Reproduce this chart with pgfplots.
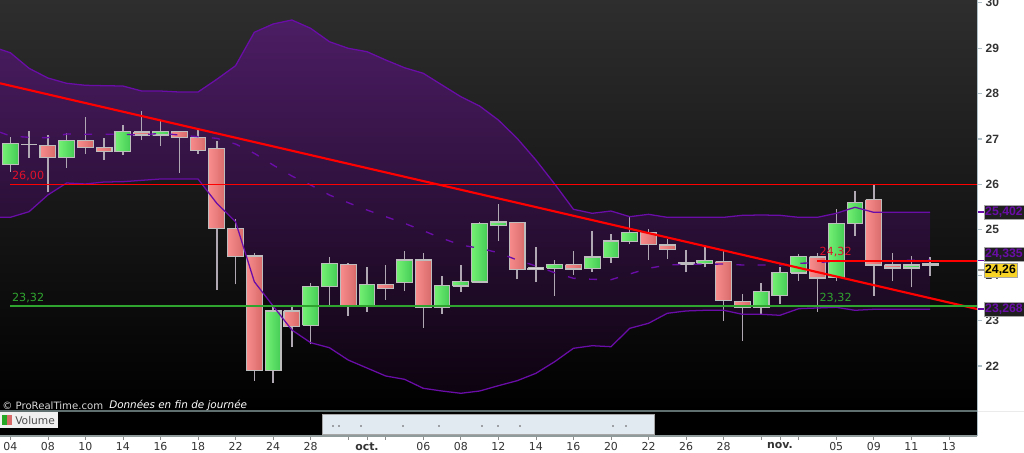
\documentclass[border=0pt]{standalone}
\usepackage{fontspec}
\setmainfont{DejaVu Sans}
\newfontfamily\boxfont{Liberation Sans}
\usepackage{pgfplots}
\pgfplotsset{compat=1.18}
\definecolor{gl}{HTML}{74F074}
\definecolor{gr}{HTML}{44CC55}
\definecolor{rl}{HTML}{F88C8C}
\definecolor{rr}{HTML}{D86A6A}
\definecolor{wl}{HTML}{D8D8D8}
\definecolor{edge}{HTML}{BDBDBD}
\definecolor{wick}{HTML}{B0A8B2}
\definecolor{bandc}{HTML}{6A0DA8}
\definecolor{spine}{HTML}{AEBFC8}
\definecolor{panel}{HTML}{5F6E6E}
\definecolor{lblr}{HTML}{E0102A}
\definecolor{lblg}{HTML}{2FA52F}
\newcommand{\candle}[7]{%
  \pgfmathsetmacro\xa{#1-0.42}\pgfmathsetmacro\xb{#1+0.42}%
  \addplot[forget plot,mark=none,wick,line width=1.1pt] coordinates {(#1,#5)(#1,#4)};
  \addplot[forget plot,mark=none,draw=edge,line width=0.85pt,shade,left color=#6,right color=#7]
    coordinates {(\xa,#2)(\xb,#2)(\xb,#3)(\xa,#3)(\xa,#2)};
}
\newcommand{\gc}[5]{\candle{#1}{#2}{#3}{#4}{#5}{gl}{gr}}
\newcommand{\rc}[5]{\candle{#1}{#2}{#3}{#4}{#5}{rl}{rr}}
\newcommand{\wc}[5]{\candle{#1}{#2}{#3}{#4}{#5}{wl}{wl}}
\begin{document}
\begin{tikzpicture}
\path[use as bounding box] (0,-31.5pt) rectangle (768pt,308.25pt);
\begin{axis}[
  at={(0,0)},anchor=south west,scale only axis,
  width=732.75pt,height=308.25pt,
  xmin=-0.549,xmax=51.50,ymin=21.009,ymax=30.062,
  axis background/.style={shade,top color=black!82,bottom color=black},
  axis line style={draw=none},
  axis y line*=right,
  xtick=\empty,
  ytick={22,23,24,25,26,27,28,29,30},
  /pgf/number format/assume math mode=true,
  yticklabel style={font=\boxfont\fontsize{9}{11}\selectfont\bfseries,text=black!80,xshift=-0.5pt},
  y tick style={spine,line width=0.8pt},
  tick align=outside,major tick length=3.5pt,
]
% Bollinger envelope
\addplot[forget plot,mark=none,draw=none,shade,top color={rgb,255:red,76;green,29;blue,100},bottom color={rgb,255:red,13;green,3;blue,15}] coordinates {
(-0.549,28.976)(0,28.901)(1,28.557)(2,28.344)(3,28.227)(4,28.183)(5,28.174)(6,28.167)(7,28.057)(8,28.057)(9,28.035)(10,28.035)(11,28.315)(12,28.614)(13,29.350)(14,29.533)(15,29.621)(16,29.438)(17,29.143)(18,28.998)(19,28.923)(20,28.740)(21,28.570)(22,28.447)(23,28.189)(24,27.932)(25,27.727)(26,27.418)(27,27.015)(28,26.537)(29,26.009)(30,25.452)(31,25.363)(32,25.414)(33,25.289)(34,25.341)(35,25.275)(36,25.275)(37,25.275)(38,25.275)(39,25.319)(40,25.326)(41,25.319)(42,25.275)(43,25.275)(44,25.363)(45,25.496)(46,25.385)(47,25.385)(48,25.385)(49,25.385)
(49,23.249)(48,23.249)(47,23.249)(46,23.249)(45,23.227)(44,23.293)(43,23.278)(42,23.262)(41,23.117)(40,23.139)(39,23.139)(38,23.227)(37,23.227)(36,23.212)(35,23.161)(34,22.941)(33,22.830)(32,22.425)(31,22.447)(30,22.390)(29,22.095)(28,21.839)(27,21.676)(26,21.566)(25,21.449)(24,21.399)(23,21.449)(22,21.509)(21,21.707)(20,21.780)(19,21.956)(18,22.132)(17,22.403)(16,22.513)(15,22.793)(14,23.322)(13,23.857)(12,25.178)(11,25.584)(10,26.119)(9,26.119)(8,26.119)(7,26.090)(6,26.059)(5,26.053)(4,26.009)(3,26.031)(2,25.767)(1,25.399)(0,25.275)(-0.549,25.275)(-0.549,28.976)};
% Candles: index, open, close, high, low
\gc{0}{26.443}{26.905}{27.037}{26.280}
\wc{1}{26.874}{26.874}{27.170}{26.588}
\rc{2}{26.861}{26.588}{27.088}{25.826}
\gc{3}{26.588}{26.971}{27.126}{26.368}
\rc{4}{26.971}{26.808}{27.478}{26.670}
\rc{5}{26.817}{26.720}{27.015}{26.537}
\gc{6}{26.720}{27.161}{27.308}{26.648}
\rc{7}{27.154}{27.088}{27.623}{26.978}
\gc{8}{27.088}{27.170}{27.418}{26.846}
\rc{9}{27.161}{27.029}{27.183}{26.258}
\rc{10}{27.037}{26.742}{27.198}{26.670}
\rc{11}{26.795}{25.024}{26.956}{23.674}
\rc{12}{25.033}{24.416}{25.231}{23.800}
\rc{13}{24.423}{21.897}{24.482}{21.676}
\gc{14}{21.897}{23.212}{23.293}{21.632}
\rc{15}{23.212}{22.875}{23.306}{22.412}
\gc{16}{22.897}{23.756}{23.828}{22.478}
\gc{17}{23.747}{24.253}{24.408}{23.344}
\rc{18}{24.231}{23.322}{24.275}{23.101}
\gc{19}{23.322}{23.800}{24.174}{23.190}
\rc{20}{23.800}{23.703}{24.218}{23.454}
\gc{21}{23.835}{24.335}{24.526}{23.652}
\rc{22}{24.335}{23.284}{24.496}{22.844}
\gc{23}{23.284}{23.778}{23.976}{23.146}
\gc{24}{23.762}{23.866}{24.218}{23.630}
\gc{25}{23.850}{25.143}{25.165}{23.822}
\gc{26}{25.090}{25.172}{25.568}{24.753}
\rc{27}{25.165}{24.130}{25.165}{23.910}
\wc{28}{24.165}{24.130}{24.628}{23.850}
\gc{29}{24.152}{24.231}{24.328}{23.542}
\rc{30}{24.231}{24.137}{24.526}{24.011}
\gc{31}{24.152}{24.401}{24.974}{24.077}
\gc{32}{24.394}{24.753}{24.908}{24.275}
\gc{33}{24.738}{24.945}{25.289}{24.694}
\rc{34}{24.945}{24.681}{25.011}{24.341}
\rc{35}{24.665}{24.566}{24.804}{24.363}
\wc{36}{24.269}{24.247}{24.562}{24.064}
\gc{37}{24.262}{24.328}{24.615}{24.174}
\rc{38}{24.297}{23.438}{24.533}{22.998}
\rc{39}{23.425}{23.293}{23.586}{22.557}
\gc{40}{23.293}{23.645}{23.822}{23.146}
\gc{41}{23.549}{24.055}{24.174}{23.366}
\gc{42}{24.049}{24.408}{24.467}{23.872}
\rc{43}{24.401}{23.938}{24.496}{23.196}
\gc{44}{23.945}{25.143}{25.458}{23.872}
\gc{45}{25.134}{25.606}{25.855}{24.870}
\rc{46}{25.663}{24.225}{25.987}{23.549}
\rc{47}{24.225}{24.159}{24.482}{23.872}
\gc{48}{24.159}{24.225}{24.430}{23.734}
\wc{49}{24.247}{24.218}{24.394}{23.989}
% upper band
\addplot[forget plot,mark=none,bandc,line width=0.95pt] coordinates {
(-0.549,28.976)(0,28.901)(1,28.557)(2,28.344)(3,28.227)(4,28.183)(5,28.174)(6,28.167)(7,28.057)(8,28.057)(9,28.035)(10,28.035)(11,28.315)(12,28.614)(13,29.350)(14,29.533)(15,29.621)(16,29.438)(17,29.143)(18,28.998)(19,28.923)(20,28.740)(21,28.570)(22,28.447)(23,28.189)(24,27.932)(25,27.727)(26,27.418)(27,27.015)(28,26.537)(29,26.009)(30,25.452)(31,25.363)(32,25.414)(33,25.289)(34,25.341)(35,25.275)(36,25.275)(37,25.275)(38,25.275)(39,25.319)(40,25.326)(41,25.319)(42,25.275)(43,25.275)(44,25.363)(45,25.496)(46,25.385)(47,25.385)(48,25.385)(49,25.385)};
% lower band
\addplot[forget plot,mark=none,bandc,line width=0.95pt] coordinates {
(-0.549,25.275)(0,25.275)(1,25.399)(2,25.767)(3,26.031)(4,26.009)(5,26.053)(6,26.059)(7,26.090)(8,26.119)(9,26.119)(10,26.119)(11,25.584)(12,25.178)(13,23.857)(14,23.322)(15,22.793)(16,22.513)(17,22.403)(18,22.132)(19,21.956)(20,21.780)(21,21.707)(22,21.509)(23,21.449)(24,21.399)(25,21.449)(26,21.566)(27,21.676)(28,21.839)(29,22.095)(30,22.390)(31,22.447)(32,22.425)(33,22.830)(34,22.941)(35,23.161)(36,23.212)(37,23.227)(38,23.227)(39,23.139)(40,23.139)(41,23.117)(42,23.262)(43,23.278)(44,23.293)(45,23.227)(46,23.249)(47,23.249)(48,23.249)(49,23.249)};
% middle band
\addplot[forget plot,mark=none,color=bandc,line width=1pt,dash pattern=on 6pt off 10pt] coordinates {
(-0.549,27.150)(0,27.066)(1,27.037)(2,27.029)(3,27.110)(4,27.103)(5,27.103)(6,27.103)(7,27.088)(8,27.126)(9,27.088)(10,27.051)(11,27.015)(12,26.890)(13,26.685)(14,26.427)(15,26.185)(16,25.987)(17,25.767)(18,25.597)(19,25.436)(20,25.289)(21,25.143)(22,24.980)(23,24.813)(24,24.665)(25,24.593)(26,24.496)(27,24.335)(28,24.203)(29,24.055)(30,23.932)(31,23.910)(32,23.901)(33,24.027)(34,24.152)(35,24.225)(36,24.240)(37,24.240)(38,24.247)(39,24.225)(40,24.225)(41,24.225)(42,24.262)(43,24.275)(44,24.313)(45,24.313)(46,24.313)(47,24.320)(48,24.330)(49,24.335)};
% levels
\addplot[forget plot,mark=none,red,line width=1.6pt] coordinates {(-0.549,28.227)(51.5,23.256)};
\addplot[forget plot,mark=none,red,line width=1.35pt] coordinates {(0,26)(51.5,26)};
\addplot[forget plot,mark=none,red,line width=1.35pt] coordinates {(43,24.32)(51.5,24.32)};
\addplot[forget plot,mark=none,color=lblg,line width=1.35pt] coordinates {(0,23.32)(51.5,23.32)};
\node[anchor=south west,inner sep=0pt,text=lblr,font=\fontsize{8.4}{10}\selectfont] at (axis cs:0.08,26.07) {26,00};
\node[anchor=south west,inner sep=0pt,text=lblg,font=\fontsize{8.4}{10}\selectfont] at (axis cs:0.08,23.39) {23,32};
\node[anchor=south west,inner sep=0pt,text=lblr,font=\fontsize{8.4}{10}\selectfont] at (axis cs:43.1,24.39) {24,32};
\node[anchor=south west,inner sep=0pt,text=lblg,font=\fontsize{8.4}{10}\selectfont] at (axis cs:43.1,23.39) {23,32};
\end{axis}
\begin{axis}[
  at={(0,-18.75pt)},anchor=south west,scale only axis,
  width=732.75pt,height=18.75pt,
  xmin=-0.549,xmax=51.50,ymin=0,ymax=1,
  axis background/.style={fill=black},
  axis line style={draw=none},
  axis x line*=bottom,
  ytick=\empty,
  xtick={0,2,4,6,8,10,12,14,16,18,19,20,22,24,26,28,30,32,34,36,38,40,41,42,44,46,48,50},
  xticklabels={04,08,10,14,16,18,22,24,28,,\textbf{oct.},,06,08,12,14,16,20,22,26,28,,\textbf{nov.},,05,09,11,13},
  xticklabel style={font=\fontsize{8.2}{9.5}\selectfont,text=black!80,yshift=1.4pt},
  x tick style={black!45,line width=0.5pt},
  tick align=outside,major tick length=3pt,
]
\end{axis}
\begin{scope}[x=0.75pt,y=-0.75pt,yshift=308.25pt]
\draw[spine,line width=1.3pt] (977.5,0) -- (977.5,436);
\draw[panel,line width=1.1pt] (0,411) -- (977,411);
\draw[black!8,line width=1pt] (978,411.5) -- (1024,411.5);
\draw[panel!70,line width=0.9pt] (0,436) -- (977,436);
% footer text
\node[anchor=west,inner sep=0pt,text=black!15,font=\fontsize{7.6}{10}\selectfont] at (2,405.5) {© ProRealTime.com};
\node[anchor=west,inner sep=0pt,text=white,font=\fontsize{7.8}{10}\selectfont\itshape] at (109,405.5) {Données en fin de journée};
% volume button
\fill[black!6] (0,412) rectangle (58,428.5);
\fill[green!60!black!85] (2,415) rectangle (7,425);
\fill[rr] (7,415) rectangle (12,425);
\node[anchor=west,inner sep=0pt,text=black!70,font=\fontsize{8}{10}\selectfont] at (15,420.5) {Volume};
% scrollbar
\draw[fill={rgb,255:red,225;green,233;blue,241},draw=black!35,line width=0.6pt] (322.5,414) rectangle (654,434);
\foreach \d in {333,339,361,403,439,482,498,520,613,626}{\fill[black!65] (\d,426) circle (0.9);}
% last value boxes
\draw[bandc,line width=0.9pt] (978,212) -- (984,212);
\draw[bandc,line width=0.9pt] (978,260.5) -- (984,260.5);
\draw[bandc,line width=0.9pt] (978,309) -- (984,309);
\node[fill=black!88,draw=black!35,line width=0.7pt,text=bandc,inner sep=0pt,minimum width=30pt,minimum height=10.5pt,font=\boxfont\fontsize{9.2}{10}\selectfont\bfseries,anchor=west] at (983.5,212) {25,402};
\node[fill=black!88,draw=black!35,line width=0.7pt,text=bandc,inner sep=0pt,minimum width=30pt,minimum height=10.5pt,font=\boxfont\fontsize{9.2}{10}\selectfont\bfseries,anchor=west] at (983.5,254.5) {24,335};
\node[fill=black!88,draw=black!35,line width=0.7pt,text=bandc,inner sep=0pt,minimum width=30pt,minimum height=10.5pt,font=\boxfont\fontsize{9.2}{10}\selectfont\bfseries,anchor=west] at (983.5,309.5) {23,268};
\draw[black!40,line width=0.8pt] (978,270) -- (984,270);
\node[fill={rgb,255:red,247;green,212;blue,38},draw=black!35,line width=0.7pt,text=black,inner sep=0pt,minimum width=24.75pt,minimum height=10.5pt,font=\boxfont\fontsize{9.2}{10}\selectfont\bfseries,anchor=west] at (983.5,270) {24,26};
\end{scope}
\end{tikzpicture}
\end{document}
